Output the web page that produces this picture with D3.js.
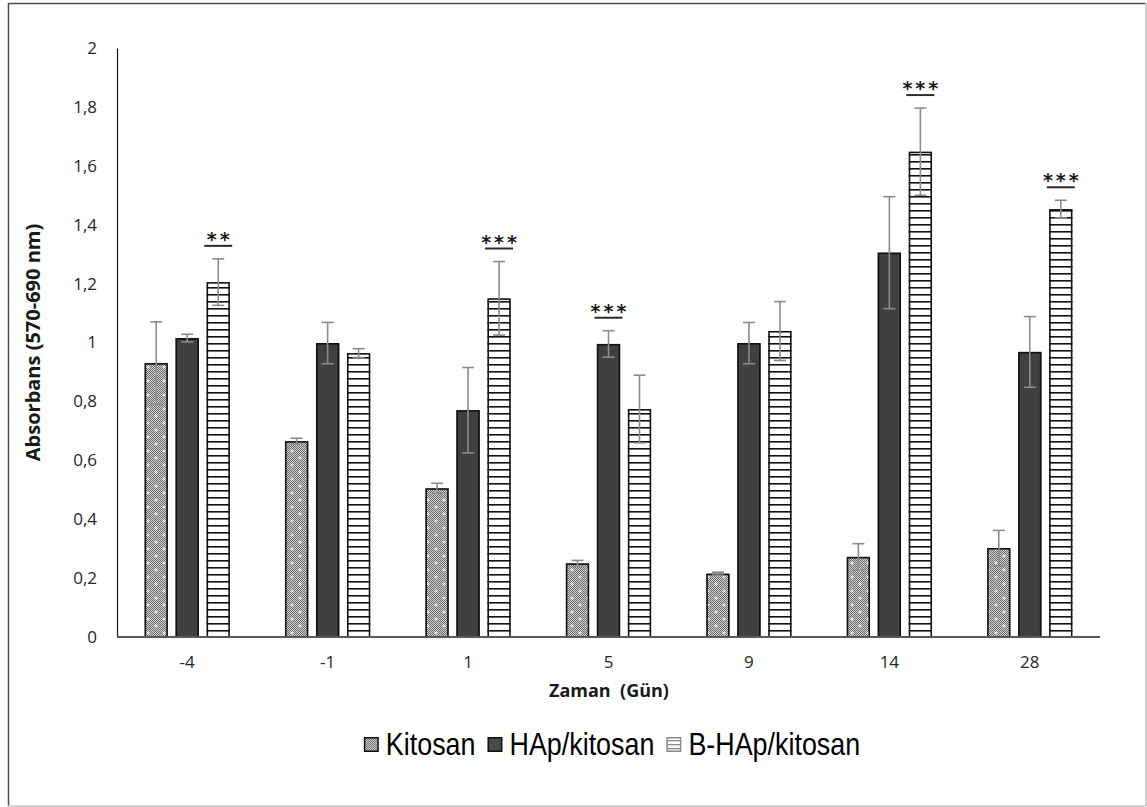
<!DOCTYPE html>
<html>
<head>
<meta charset="utf-8">
<script src="https://cdn.jsdelivr.net/npm/d3@7/dist/d3.min.js"></script>
<style>
  html, body { margin: 0; padding: 0; background: #ffffff; }
  svg { display: block; }
</style>
</head>
<body>
<svg id="chart" width="1147" height="807"></svg>
<script>
// Time points (days) and series names
const categories = ["-4", "-1", "1", "5", "9", "14", "28"];
const series = ["Kitosan", "HAp/kitosan", "B-HAp/kitosan"];

// Mean absorbance and error (±) for each series
const kitosan    = [0.93, 0.665, 0.505, 0.25, 0.215, 0.272, 0.302];
const kitosanErr = [0.14, 0.01, 0.017, 0.01, 0.005, 0.045, 0.06];
const hap        = [1.015, 0.998, 0.77, 0.995, 0.998, 1.305, 0.968];
const hapErr     = [0.013, 0.07, 0.145, 0.045, 0.07, 0.19, 0.12];
const bhap       = [1.205, 0.964, 1.15, 0.774, 1.039, 1.648, 1.453];
const bhapErr    = [0.079, 0.015, 0.125, 0.115, 0.1, 0.148, 0.03];

// Y tick values and their labels (decimal comma)
const yTicks = [0, 0.2, 0.4, 0.6, 0.8, 1, 1.2, 1.4, 1.6, 1.8, 2];
const yTickLabels = ["0", "0,2", "0,4", "0,6", "0,8", "1", "1,2", "1,4", "1,6", "1,8", "2"];

// Significance markers
const sigCategory = ["-4", "1", "5", "14", "28"];
const sigSeries   = ["B-HAp/kitosan", "B-HAp/kitosan", "HAp/kitosan", "B-HAp/kitosan", "B-HAp/kitosan"];
const sigLabel    = ["**", "***", "***", "***", "***"];

const valuesBySeries = { "Kitosan": kitosan, "HAp/kitosan": hap, "B-HAp/kitosan": bhap };
const errBySeries = { "Kitosan": kitosanErr, "HAp/kitosan": hapErr, "B-HAp/kitosan": bhapErr };

const rows = [];
categories.forEach((c, i) => {
  series.forEach(s => rows.push({ cat: c, series: s, value: valuesBySeries[s][i], err: errBySeries[s][i] }));
});

const svg = d3.select("#chart");
const W = 1147, H = 807;
const plot = { left: 117, right: 1100, top: 48, bottom: 637 };

const tickFont = "'Open Sans', 'DejaVu Sans', sans-serif";

// ---- Patterns ----
const defs = svg.append("defs");
const stipple = defs.append("pattern").attr("id", "stipple")
  .attr("patternUnits", "userSpaceOnUse").attr("width", 2).attr("height", 2);
stipple.append("rect").attr("width", 2).attr("height", 2).attr("fill", "#d2d2d2");
stipple.append("rect").attr("width", 1).attr("height", 1).attr("fill", "#6a6a6a");
stipple.append("rect").attr("x", 1).attr("y", 1).attr("width", 1).attr("height", 1).attr("fill", "#6a6a6a");

const crosses = defs.append("pattern").attr("id", "crosses")
  .attr("patternUnits", "userSpaceOnUse").attr("width", 16).attr("height", 14);
[[4, 3], [12, 10]].forEach(([cx, cy]) => {
  crosses.append("rect").attr("x", cx - 1.5).attr("y", cy - 0.5).attr("width", 3).attr("height", 1).attr("fill", "#ffffff");
  crosses.append("rect").attr("x", cx - 0.5).attr("y", cy - 1.5).attr("width", 1).attr("height", 3).attr("fill", "#ffffff");
});

const stripes = defs.append("pattern").attr("id", "stripes")
  .attr("patternUnits", "userSpaceOnUse").attr("width", 8).attr("height", 7);
stripes.append("rect").attr("width", 8).attr("height", 7).attr("fill", "#ffffff");
stripes.append("rect").attr("y", 0).attr("width", 8).attr("height", 1.6).attr("fill", "#111111");

const stripesLight = defs.append("pattern").attr("id", "stripesLight")
  .attr("patternUnits", "userSpaceOnUse").attr("width", 8).attr("height", 4);
stripesLight.append("rect").attr("width", 8).attr("height", 4).attr("fill", "#ffffff");
stripesLight.append("rect").attr("y", 0).attr("width", 8).attr("height", 1.3).attr("fill", "#8a8a8a");

// ---- Outer frame ----
svg.append("rect").attr("x", 0).attr("y", 0).attr("width", W).attr("height", H).attr("fill", "#ffffff");
svg.append("line").attr("x1", 8.5).attr("x2", 8.5).attr("y1", 3).attr("y2", 806).attr("stroke", "#4d4d4d").attr("stroke-width", 1.5);
svg.append("line").attr("x1", 8).attr("x2", 1146).attr("y1", 3.5).attr("y2", 3.5).attr("stroke", "#4d4d4d").attr("stroke-width", 1.5);
svg.append("line").attr("x1", 8).attr("x2", 1146).attr("y1", 806).attr("y2", 806).attr("stroke", "#c4c4c4").attr("stroke-width", 1.5);
svg.append("line").attr("x1", 1146).attr("x2", 1146).attr("y1", 3).attr("y2", 806).attr("stroke", "#c4c4c4").attr("stroke-width", 1.5);

// ---- Scales ----
const y = d3.scaleLinear().domain([0, 2]).range([plot.bottom, plot.top]);
const x0 = d3.scaleBand().domain(categories).range([plot.left, plot.right]).paddingInner(0).paddingOuter(0);
const x1 = d3.scaleBand().domain(series).range([-46.5, 46.5]).paddingInner(0.25).paddingOuter(0.125);
const barX = d => x0(d.cat) + x0.bandwidth() / 2 + x1(d.series);

// ---- Y axis ----
const yAxis = d3.axisLeft(y).tickValues(yTicks).tickSize(0).tickPadding(20)
  .tickFormat((d, i) => yTickLabels[i]);
const yg = svg.append("g").attr("transform", `translate(${plot.left},0)`).call(yAxis);
yg.select(".domain").attr("stroke", "#1a1a1a").attr("stroke-width", 1.2);
yg.selectAll("text").attr("font-family", tickFont).attr("font-size", 17).attr("fill", "#262626");

// ---- Bars ----
const fillFor = { "Kitosan": "url(#stipple)", "HAp/kitosan": "#404040", "B-HAp/kitosan": "url(#stripes)" };
const bars = svg.append("g");
bars.selectAll("rect.bar").data(rows).join("rect")
  .attr("class", "bar")
  .attr("x", barX)
  .attr("y", d => y(d.value))
  .attr("width", x1.bandwidth())
  .attr("height", d => y(0) - y(d.value))
  .attr("fill", d => fillFor[d.series]);
bars.selectAll("rect.cross").data(rows.filter(d => d.series === "Kitosan")).join("rect")
  .attr("class", "cross")
  .attr("x", barX)
  .attr("y", d => y(d.value))
  .attr("width", x1.bandwidth())
  .attr("height", d => y(0) - y(d.value))
  .attr("fill", "url(#crosses)");
bars.selectAll("rect.edge").data(rows).join("rect")
  .attr("class", "edge")
  .attr("x", d => barX(d) + 0.75)
  .attr("y", d => y(d.value) + 0.75)
  .attr("width", x1.bandwidth() - 1.5)
  .attr("height", d => y(0) - y(d.value) - 0.75)
  .attr("fill", "none")
  .attr("stroke", "#111111")
  .attr("stroke-width", 1.6);

// ---- X axis line and labels ----
svg.append("line")
  .attr("x1", plot.left).attr("x2", plot.right)
  .attr("y1", y(0)).attr("y2", y(0))
  .attr("stroke", "#595959").attr("stroke-width", 2);
const xAxis = d3.axisBottom(x0).tickSize(0).tickPadding(19);
const xg = svg.append("g").attr("transform", `translate(0,${y(0)})`).call(xAxis);
xg.select(".domain").remove();
xg.selectAll("text").attr("font-family", tickFont).attr("font-size", 17).attr("fill", "#262626");

// ---- Error bars ----
const errG = svg.append("g").attr("stroke", "#8c8c8c").attr("stroke-width", 1.6);
const cx = d => barX(d) + x1.bandwidth() / 2;
errG.selectAll("line.v").data(rows).join("line").attr("class", "v")
  .attr("x1", cx).attr("x2", cx)
  .attr("y1", d => y(d.value - d.err)).attr("y2", d => y(d.value + d.err));
errG.selectAll("line.top").data(rows).join("line").attr("class", "top")
  .attr("x1", d => cx(d) - 6).attr("x2", d => cx(d) + 6)
  .attr("y1", d => y(d.value + d.err)).attr("y2", d => y(d.value + d.err));
errG.selectAll("line.bot").data(rows).join("line").attr("class", "bot")
  .attr("x1", d => cx(d) - 6).attr("x2", d => cx(d) + 6)
  .attr("y1", d => y(d.value - d.err)).attr("y2", d => y(d.value - d.err));

// ---- Significance markers ----
const sigRows = sigCategory.map((c, i) => {
  const r = rows.find(d => d.cat === c && d.series === sigSeries[i]);
  return { ...r, label: sigLabel[i] };
});
const sigG = svg.append("g");
sigG.selectAll("line").data(sigRows).join("line")
  .attr("x1", d => cx(d) - 14).attr("x2", d => cx(d) + 14)
  .attr("y1", d => y(d.value + d.err) - 13).attr("y2", d => y(d.value + d.err) - 13)
  .attr("stroke", "#2a2a2a").attr("stroke-width", 2);
sigG.selectAll("text").data(sigRows).join("text")
  .attr("x", d => cx(d) + 1.5)
  .attr("y", d => y(d.value + d.err) - 13)
  .attr("text-anchor", "middle")
  .attr("font-family", "'DejaVu Sans', sans-serif")
  .attr("font-size", 19)
  .attr("font-weight", "bold")
  .attr("letter-spacing", 3)
  .attr("fill", "#1a1a1a")
  .text(d => d.label);

// ---- Axis titles ----
svg.append("text")
  .attr("transform", `translate(40,${(plot.top + plot.bottom) / 2}) rotate(-90)`)
  .attr("text-anchor", "middle")
  .attr("font-family", tickFont)
  .attr("font-size", 20)
  .attr("font-weight", "bold")
  .attr("fill", "#1a1a1a")
  .text("Absorbans (570-690 nm)");

svg.append("text")
  .attr("x", 609).attr("y", 697)
  .attr("text-anchor", "middle")
  .attr("font-family", tickFont)
  .attr("font-size", 18)
  .attr("font-weight", "bold")
  .attr("fill", "#1a1a1a")
  .style("white-space", "pre")
  .text("Zaman  (Gün)");

// ---- Legend (condensed sans text) ----
const legendFont = "'Liberation Sans', Arial, sans-serif";
const legend = svg.append("g");
const symFill = { "Kitosan": "url(#stipple)", "HAp/kitosan": "#4a4a4a", "B-HAp/kitosan": "url(#stripesLight)" };
const symStroke = { "Kitosan": "#111111", "HAp/kitosan": "#111111", "B-HAp/kitosan": "#8a8a8a" };
const squeeze = 0.84;
let lx = 0;
series.forEach(s => {
  const g = legend.append("g");
  g.append("rect").attr("x", lx + 0.75).attr("y", 737.75).attr("width", 13.5).attr("height", 13.5)
    .attr("fill", symFill[s]).attr("stroke", symStroke[s]).attr("stroke-width", 1.5);
  const t = g.append("text")
    .attr("transform", `translate(${lx + 22},755) scale(${squeeze},1)`)
    .attr("font-family", legendFont).attr("font-size", 32).attr("fill", "#000000").text(s);
  lx += 22 + t.node().getComputedTextLength() * squeeze + 12;
});
const legendWidth = lx - 12;
legend.attr("transform", `translate(${612 - legendWidth / 2},0)`);
</script>
</body>
</html>
